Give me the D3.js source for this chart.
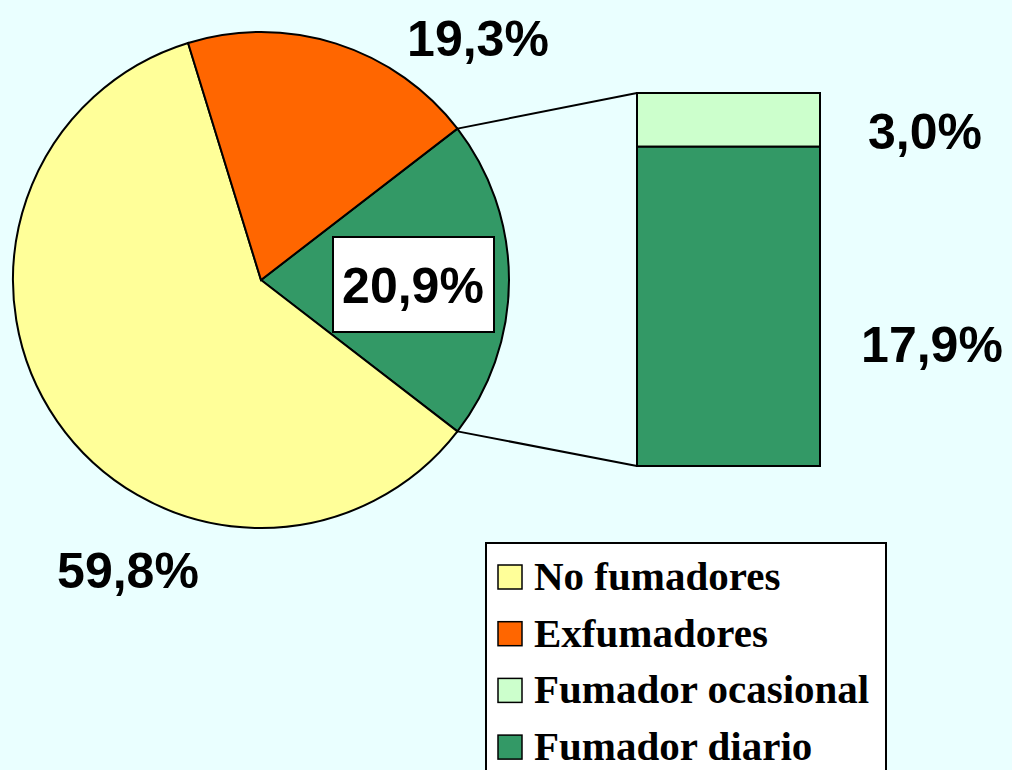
<!DOCTYPE html>
<html>
<head>
<meta charset="utf-8">
<script src="https://cdn.jsdelivr.net/npm/d3@7"></script>
<style>
  html, body { margin: 0; padding: 0; background: #eaffff; }
  svg { display: block; }
</style>
</head>
<body>
<svg id="chart" width="1012" height="770"></svg>
<script>
// pie data (order clockwise starting at the green slice)
const pieCats = ["Fumadores", "No fumadores", "Exfumadores"];
const pieVals = [20.9, 59.8, 19.3];
const pieLabels = ["20,9%", "59,8%", "19,3%"];
const pieColors = ["#339966", "#ffff99", "#ff6600"];

// bar breakdown of the smokers slice (bottom to top)
const barCats = ["Fumador diario", "Fumador ocasional"];
const barVals = [17.9, 3.0];
const barLabels = ["17,9%", "3,0%"];
const barColors = ["#339966", "#ccffcc"];

const legendCats = ["No fumadores", "Exfumadores", "Fumador ocasional", "Fumador diario"];
const legendColors = ["#ffff99", "#ff6600", "#ccffcc", "#339966"];

const svg = d3.select("#chart");
const cx = 261, cy = 280, r = 248;

// green slice centred on the 3 o'clock direction
const greenSpan = pieVals[0] / d3.sum(pieVals) * 2 * Math.PI;
const start = Math.PI / 2 - greenSpan / 2;

const pie = d3.pie().sort(null).value(d => d)
    .startAngle(start).endAngle(start + 2 * Math.PI);
const arcs = pie(pieVals);
const arc = d3.arc().innerRadius(0).outerRadius(r);

const g = svg.append("g").attr("transform", "translate(" + cx + "," + cy + ")");
g.selectAll("path")
    .data(arcs)
    .enter().append("path")
    .attr("d", arc)
    .attr("fill", (d, i) => pieColors[i])
    .attr("stroke", "#000")
    .attr("stroke-width", 2);

// bar
const barX = 637, barW = 183, barTop = 93, barBottom = 466;
const y = d3.scaleLinear().domain([0, d3.sum(barVals)]).range([barBottom, barTop]);
const stacked = [];
let acc = 0;
barVals.forEach((v, i) => { stacked.push({v0: acc, v1: acc + v, i: i}); acc += v; });

svg.selectAll(".bar")
    .data(stacked)
    .enter().append("rect")
    .attr("class", "bar")
    .attr("x", barX)
    .attr("width", barW)
    .attr("y", d => y(d.v1))
    .attr("height", d => y(d.v0) - y(d.v1))
    .attr("fill", d => barColors[d.i])
    .attr("stroke", "#000")
    .attr("stroke-width", 2);

// connector lines from the green slice edges to the bar
const a0 = arcs[0].startAngle, a1 = arcs[0].endAngle;
const edge = a => [cx + r * Math.sin(a), cy - r * Math.cos(a)];
const p0 = edge(a0), p1 = edge(a1);
svg.append("line")
    .attr("x1", p0[0]).attr("y1", p0[1])
    .attr("x2", barX).attr("y2", y(d3.sum(barVals)))
    .attr("stroke", "#000").attr("stroke-width", 2);
svg.append("line")
    .attr("x1", p1[0]).attr("y1", p1[1])
    .attr("x2", barX).attr("y2", y(0))
    .attr("stroke", "#000").attr("stroke-width", 2);

const labelFont = "'Liberation Sans', Arial, sans-serif";

// boxed label of the green slice
svg.append("rect")
    .attr("x", 333).attr("y", 237).attr("width", 161).attr("height", 95)
    .attr("fill", "#fff").attr("stroke", "#000").attr("stroke-width", 2);

const pieLabelPos = [[413, 303], [128, 588], [478, 56]];
svg.selectAll(".plabel")
    .data(pieLabels)
    .enter().append("text")
    .attr("class", "plabel")
    .attr("x", (d, i) => pieLabelPos[i][0])
    .attr("y", (d, i) => pieLabelPos[i][1])
    .attr("text-anchor", "middle")
    .attr("font-family", labelFont)
    .attr("font-weight", "bold")
    .attr("font-size", 50)
    .text(d => d);

const barLabelPos = [[932, 362], [925, 149]];
svg.selectAll(".blabel")
    .data(barLabels)
    .enter().append("text")
    .attr("class", "blabel")
    .attr("x", (d, i) => barLabelPos[i][0])
    .attr("y", (d, i) => barLabelPos[i][1])
    .attr("text-anchor", "middle")
    .attr("font-family", labelFont)
    .attr("font-weight", "bold")
    .attr("font-size", 50)
    .text(d => d);

// legend
svg.append("rect")
    .attr("x", 486).attr("y", 543).attr("width", 400).attr("height", 240)
    .attr("fill", "#fff").attr("stroke", "#000").attr("stroke-width", 2);

const leg = svg.selectAll(".leg")
    .data(legendCats)
    .enter().append("g")
    .attr("class", "leg")
    .attr("transform", (d, i) => "translate(498," + (577 + i * 56.7) + ")");
leg.append("rect")
    .attr("x", 0).attr("y", -12).attr("width", 24).attr("height", 24)
    .attr("fill", (d, i) => legendColors[i])
    .attr("stroke", "#000").attr("stroke-width", 1.5);
leg.append("text")
    .attr("x", 36).attr("y", 13)
    .attr("font-family", "'Liberation Serif', 'Times New Roman', serif")
    .attr("font-weight", "bold")
    .attr("font-size", 41)
    .text(d => d);
</script>
</body>
</html>
